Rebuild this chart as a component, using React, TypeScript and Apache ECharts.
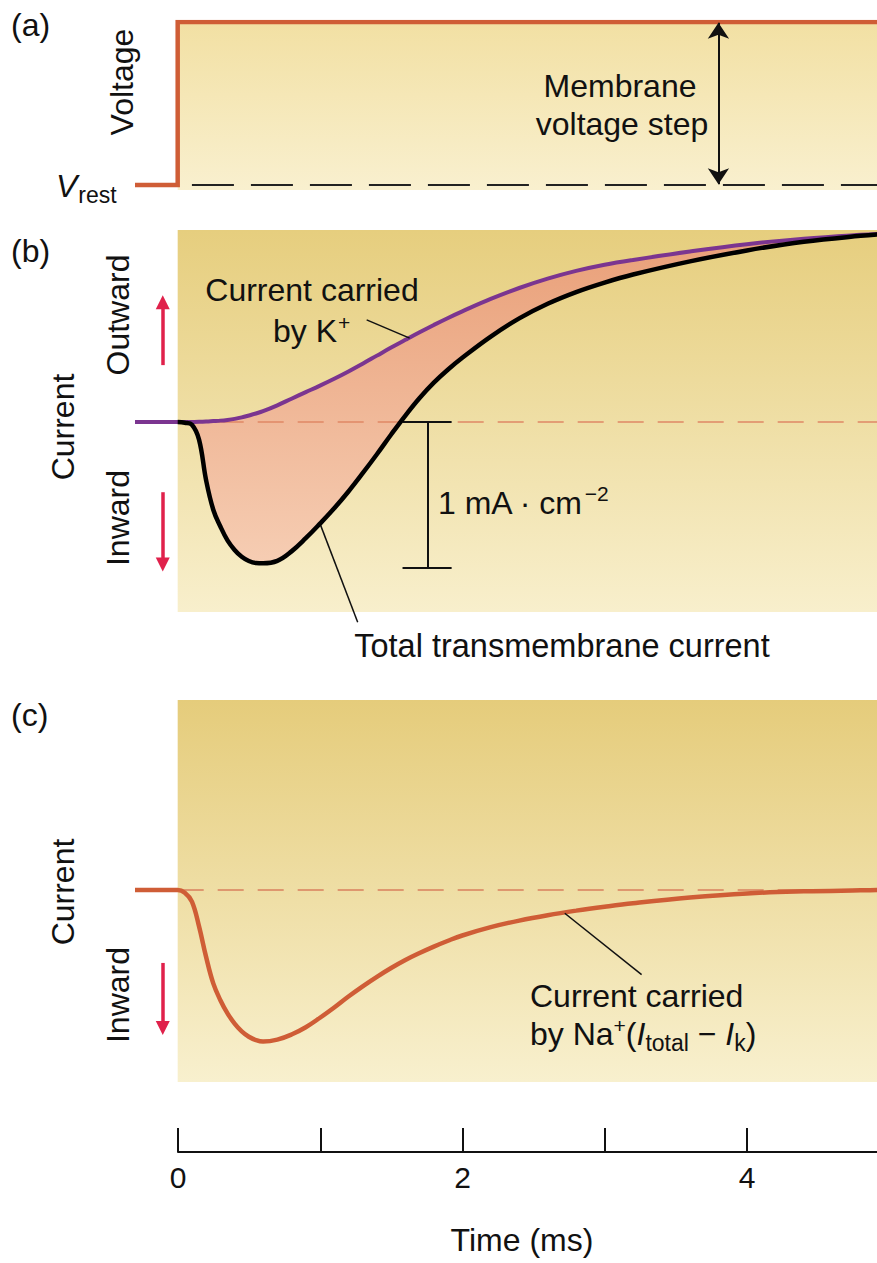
import React, { useEffect, useRef } from "react";
import * as echarts from "echarts";

// ---- data (time in ms, currents in mA·cm^-2, voltage normalized) ----
const stepT = [-0.3, 0, 0, 5];
const stepV = [0, 0, 1, 1];

const time = [-0.3, 0, 0.05, 0.1, 0.15, 0.2, 0.25, 0.3, 0.35, 0.4, 0.45, 0.5, 0.55, 0.6, 0.7, 0.8, 0.9, 1.0, 1.1, 1.2, 1.3, 1.4, 1.5, 1.6, 1.7, 1.8, 1.9, 2.0, 2.2, 2.4, 2.6, 2.8, 3.0, 3.2, 3.6, 4.0, 4.4, 4.8, 5.0];
const currentK = [0, 0, 0, 0.001, 0.002, 0.004, 0.007, 0.01, 0.015, 0.022, 0.032, 0.045, 0.059, 0.075, 0.115, 0.16, 0.205, 0.25, 0.297, 0.347, 0.4, 0.455, 0.51, 0.563, 0.615, 0.665, 0.713, 0.758, 0.843, 0.918, 0.982, 1.035, 1.077, 1.11, 1.168, 1.218, 1.255, 1.282, 1.292];
const currentTotal = [0, 0, -0.004, -0.018, -0.12, -0.4, -0.6, -0.715, -0.81, -0.875, -0.922, -0.951, -0.965, -0.967, -0.95, -0.885, -0.795, -0.695, -0.59, -0.475, -0.35, -0.22, -0.085, 0.045, 0.165, 0.27, 0.36, 0.44, 0.585, 0.71, 0.81, 0.89, 0.955, 1.01, 1.1, 1.175, 1.235, 1.275, 1.29];
const currentNa = [0, 0, -0.02, -0.08, -0.25, -0.46, -0.64, -0.755, -0.845, -0.915, -0.968, -1.005, -1.028, -1.038, -1.025, -0.99, -0.94, -0.875, -0.805, -0.73, -0.66, -0.595, -0.535, -0.48, -0.432, -0.388, -0.348, -0.312, -0.255, -0.21, -0.173, -0.142, -0.115, -0.091, -0.052, -0.024, -0.01, -0.003, 0];

const timeTicks = [0, 1, 2, 3, 4];

const FONT = '"Liberation Sans", Arial, Helvetica, sans-serif';
const ORANGE = "#cf5d36";
const PURPLE = "#7b3590";
const RED = "#e0214b";

function grad(c0: string, c1: string) {
  return new echarts.graphic.LinearGradient(0, 0, 0, 1, [
    { offset: 0, color: c0 },
    { offset: 1, color: c1 },
  ]);
}

function pairs(t: number[], v: number[]) {
  return t.map((x, i) => [x, v[i]]);
}

export default function App() {
  const ref = useRef<HTMLDivElement>(null);
  useEffect(() => {
    document.body.style.margin = "0";
    const chart = echarts.init(ref.current!, null, { renderer: "svg" });

    // 142.3 px per ms; x range -0.3..5
    const gridX = { left: 135, width: 754.2, outerBoundsMode: "none", containLabel: false };
    const hiddenX = (gi: number) => ({ type: "value", gridIndex: gi, min: -0.3, max: 5, show: false });

    const kData = pairs(time, currentK);
    const totalData = pairs(time, currentTotal).filter((p) => p[0] >= 0);
    const naData = pairs(time, currentNa);

    const textBase = { fontFamily: FONT, fill: "#111" };
    const T = (o: any) => ({ type: "text", z: 100, zlevel: 0, ...o });

    const option: any = {
      animation: false,
      grid: [
        { ...gridX, top: 22, height: 168 },
        { ...gridX, top: 230, height: 396.6 },
        { ...gridX, top: 700, height: 382 },
        { left: 178, width: 711.5, top: 1100, height: 52, outerBoundsMode: "none", containLabel: false },
      ],
      xAxis: [
        hiddenX(0),
        hiddenX(1),
        hiddenX(2),
        {
          type: "value",
          gridIndex: 3,
          min: timeTicks[0],
          max: 5,
          interval: 1,
          axisLine: { show: true, lineStyle: { color: "#111", width: 2 } },
          axisTick: { show: true, inside: true, length: 24, lineStyle: { color: "#111", width: 2 } },
          axisLabel: {
            fontSize: 30,
            fontFamily: FONT,
            color: "#111",
            margin: 10,
            formatter: (v: number) => (timeTicks.includes(v) && v % 2 === 0 ? String(v) : ""),
          },
          splitLine: { show: false },
        },
      ],
      yAxis: [
        { type: "value", gridIndex: 0, min: -0.03, max: 1, show: false },
        { type: "value", gridIndex: 1, min: -1.4, max: 1.315, show: false },
        { type: "value", gridIndex: 2, min: -1.315, max: 1.3, show: false },
        { type: "value", gridIndex: 3, min: 0, max: 1, show: false },
      ],
      series: [
        // ---------- panel (a) ----------
        {
          type: "line", xAxisIndex: 0, yAxisIndex: 0, z: 0, silent: true,
          data: [[0, 0]], showSymbol: false, lineStyle: { opacity: 0 },
          markArea: {
            silent: true,
            itemStyle: { color: grad("#f2e0a3", "#f9f0cf"), opacity: 1 },
            data: [[{ xAxis: 0, yAxis: -0.03 }, { xAxis: 5, yAxis: 1 }]],
          },
        },
        {
          type: "line", xAxisIndex: 0, yAxisIndex: 0, z: 2, silent: true,
          data: [[0.1, 0], [5, 0]], showSymbol: false,
          lineStyle: { color: "#222", width: 2, type: [42, 17] },
        },
        {
          type: "line", xAxisIndex: 0, yAxisIndex: 0, z: 4, silent: true,
          data: pairs(stepT, stepV), showSymbol: false,
          lineStyle: { color: ORANGE, width: 4.5, join: "miter" },
        },
        {
          type: "line", xAxisIndex: 0, yAxisIndex: 0, z: 3, silent: true, clip: false,
          data: [], showSymbol: false,
          markLine: {
            silent: true,
            symbol: ["arrow", "arrow"],
            symbolSize: 16,
            label: { show: false },
            lineStyle: { color: "#111", width: 2, type: "solid" },
            data: [[{ coord: [3.8, 0.005] }, { coord: [3.8, 0.995] }]],
          },
        },
        // ---------- panel (b) ----------
        {
          type: "line", xAxisIndex: 1, yAxisIndex: 1, z: 0, silent: true,
          data: [[0, 0]], showSymbol: false, lineStyle: { opacity: 0 },
          markArea: {
            silent: true,
            itemStyle: { color: grad("#e6ce7e", "#f8efcc"), opacity: 1 },
            data: [[{ xAxis: 0, yAxis: -1.3 }, { xAxis: 5, yAxis: 1.315 }]],
          },
        },
        {
          type: "line", xAxisIndex: 1, yAxisIndex: 1, z: 2, silent: true,
          data: [[0, 0], [5, 0]], showSymbol: false,
          lineStyle: { color: "#e08866", width: 1.5, type: [26, 14] },
        },
        {
          type: "custom", xAxisIndex: 1, yAxisIndex: 1, z: 1, silent: true,
          data: [[0, 0]],
          renderItem: (_p: any, api: any) => {
            const top = time.map((t, i) => api.coord([t, currentK[i]]));
            const bot = time.map((t, i) => api.coord([t, currentTotal[i]])).reverse();
            return {
              type: "polygon",
              shape: { points: top.concat(bot) },
              style: { fill: grad("#e99f78", "#f6cdb3") },
            };
          },
        },
        {
          type: "line", xAxisIndex: 1, yAxisIndex: 1, z: 4, silent: true,
          data: kData, showSymbol: false, smooth: 0.4,
          lineStyle: { color: PURPLE, width: 4 },
        },
        {
          type: "line", xAxisIndex: 1, yAxisIndex: 1, z: 5, silent: true,
          data: totalData, showSymbol: false, smooth: 0.4,
          lineStyle: { color: "#000", width: 4.5 },
        },
        {
          type: "line", xAxisIndex: 1, yAxisIndex: 1, z: 6, silent: true, clip: false,
          data: [], showSymbol: false,
          markLine: {
            silent: true,
            symbol: "none",
            label: { show: false },
            lineStyle: { color: "#111", width: 2, type: "solid" },
            data: [
              [{ coord: [1.757, 0] }, { coord: [1.757, -1] }],
              [{ coord: [1.58, 0] }, { coord: [1.925, 0] }],
              [{ coord: [1.58, -1] }, { coord: [1.925, -1] }],
              [{ coord: [1.328, 0.7], lineStyle: { width: 1.5 } }, { coord: [1.63, 0.575] }],
              [{ coord: [0.998, -0.69], lineStyle: { width: 1.5 } }, { coord: [1.265, -1.37] }],
            ],
          },
        },
        {
          type: "line", xAxisIndex: 1, yAxisIndex: 1, z: 6, silent: true, clip: false,
          data: [], showSymbol: false,
          markLine: {
            silent: true,
            symbol: ["none", "triangle"],
            symbolSize: 14,
            label: { show: false },
            lineStyle: { color: RED, width: 3.5, type: "solid" },
            data: [
              [{ coord: [-0.105, 0.39] }, { coord: [-0.105, 0.82] }],
              [{ coord: [-0.105, -0.48] }, { coord: [-0.105, -0.975] }],
            ],
          },
        },
        // ---------- panel (c) ----------
        {
          type: "line", xAxisIndex: 2, yAxisIndex: 2, z: 0, silent: true,
          data: [[0, 0]], showSymbol: false, lineStyle: { opacity: 0 },
          markArea: {
            silent: true,
            itemStyle: { color: grad("#e5cc7b", "#f8f0ce"), opacity: 1 },
            data: [[{ xAxis: 0, yAxis: -1.315 }, { xAxis: 5, yAxis: 1.3 }]],
          },
        },
        {
          type: "line", xAxisIndex: 2, yAxisIndex: 2, z: 2, silent: true,
          data: [[0, 0], [5, 0]], showSymbol: false,
          lineStyle: { color: "#d9805e", width: 1.5, type: [26, 14] },
        },
        {
          type: "line", xAxisIndex: 2, yAxisIndex: 2, z: 4, silent: true,
          data: naData, showSymbol: false, smooth: 0.4,
          lineStyle: { color: ORANGE, width: 4.5 },
        },
        {
          type: "line", xAxisIndex: 2, yAxisIndex: 2, z: 6, silent: true, clip: false,
          data: [], showSymbol: false,
          markLine: {
            silent: true,
            symbol: "none",
            label: { show: false },
            lineStyle: { color: "#111", width: 1.5, type: "solid" },
            data: [[{ coord: [2.72, -0.16] }, { coord: [3.26, -0.58] }]],
          },
        },
        {
          type: "line", xAxisIndex: 2, yAxisIndex: 2, z: 6, silent: true, clip: false,
          data: [], showSymbol: false,
          markLine: {
            silent: true,
            symbol: ["none", "triangle"],
            symbolSize: 14,
            label: { show: false },
            lineStyle: { color: RED, width: 3.5, type: "solid" },
            data: [[{ coord: [-0.105, -0.5] }, { coord: [-0.105, -0.945] }]],
          },
        },
      ],
      graphic: [
        // panel labels
        T({ left: 11, top: 9, style: { ...textBase, text: "(a)", fontSize: 32 } }),
        T({ left: 11, top: 235, style: { ...textBase, text: "(b)", fontSize: 32 } }),
        T({ left: 11, top: 699, style: { ...textBase, text: "(c)", fontSize: 32 } }),
        // rotated axis labels
        T({ x: 122, y: 82, rotation: Math.PI / 2, style: { ...textBase, text: "Voltage", fontSize: 32, align: "center", verticalAlign: "middle" } }),
        T({ x: 118, y: 315, rotation: Math.PI / 2, style: { ...textBase, text: "Outward", fontSize: 32, align: "center", verticalAlign: "middle" } }),
        T({ x: 63, y: 427, rotation: Math.PI / 2, style: { ...textBase, text: "Current", fontSize: 32, align: "center", verticalAlign: "middle" } }),
        T({ x: 118, y: 518, rotation: Math.PI / 2, style: { ...textBase, text: "Inward", fontSize: 32, align: "center", verticalAlign: "middle" } }),
        T({ x: 63, y: 892, rotation: Math.PI / 2, style: { ...textBase, text: "Current", fontSize: 32, align: "center", verticalAlign: "middle" } }),
        T({ x: 118, y: 995, rotation: Math.PI / 2, style: { ...textBase, text: "Inward", fontSize: 32, align: "center", verticalAlign: "middle" } }),
        // V rest
        T({
          x: 56, y: 186,
          style: {
            ...textBase, text: "{v|V}{s|rest}", align: "left", verticalAlign: "middle",
            rich: {
              v: { fontSize: 32, fontStyle: "italic", fontFamily: FONT, fill: "#111" },
              s: { fontSize: 23, fontFamily: FONT, fill: "#111", padding: [18, 0, 0, 1] },
            },
          },
        }),
        // membrane voltage step
        T({ x: 620, y: 86, style: { ...textBase, text: "Membrane", fontSize: 32, align: "center", verticalAlign: "middle" } }),
        T({ x: 622, y: 124, style: { ...textBase, text: "voltage step", fontSize: 32, align: "center", verticalAlign: "middle" } }),
        // K label
        T({ x: 312, y: 290, style: { ...textBase, text: "Current carried", fontSize: 32, align: "center", verticalAlign: "middle" } }),
        T({
          x: 273, y: 331,
          style: {
            ...textBase, text: "{n|by K}{p|+}", align: "left", verticalAlign: "middle",
            rich: {
              n: { fontSize: 32, fontFamily: FONT, fill: "#111" },
              p: { fontSize: 21, fontFamily: FONT, fill: "#111", padding: [0, 0, 18, 1] },
            },
          },
        }),
        // scale bar label
        T({
          x: 438, y: 503,
          style: {
            ...textBase, text: "{n|1 mA · cm}{p|−2}", align: "left", verticalAlign: "middle",
            rich: {
              n: { fontSize: 32, fontFamily: FONT, fill: "#111" },
              p: { fontSize: 21, fontFamily: FONT, fill: "#111", padding: [0, 0, 20, 1] },
            },
          },
        }),
        T({ x: 562, y: 646, style: { ...textBase, text: "Total transmembrane current", fontSize: 32.5, align: "center", verticalAlign: "middle" } }),
        // Na label
        T({ x: 530, y: 996, style: { ...textBase, text: "Current carried", fontSize: 32, align: "left", verticalAlign: "middle" } }),
        T({
          x: 530, y: 1034,
          style: {
            ...textBase, text: "{n|by Na}{p|+}{n|(}{i|I}{s|total}{n| − }{i|I}{s|k}{n|)}", align: "left", verticalAlign: "middle",
            rich: {
              n: { fontSize: 32, fontFamily: FONT, fill: "#111" },
              i: { fontSize: 32, fontStyle: "italic", fontFamily: FONT, fill: "#111" },
              p: { fontSize: 21, fontFamily: FONT, fill: "#111", padding: [0, 0, 18, 0] },
              s: { fontSize: 23, fontFamily: FONT, fill: "#111", padding: [18, 0, 0, 0] },
            },
          },
        }),
        // axis title
        T({ x: 522, y: 1240, style: { ...textBase, text: "Time (ms)", fontSize: 32, align: "center", verticalAlign: "middle" } }),
      ],
    };

    chart.setOption(option);
    return () => chart.dispose();
  }, []);

  return (
    <div
      ref={ref}
      style={{ position: "absolute", left: 0, top: 0, width: 877, height: 1263, background: "#fff" }}
    />
  );
}
